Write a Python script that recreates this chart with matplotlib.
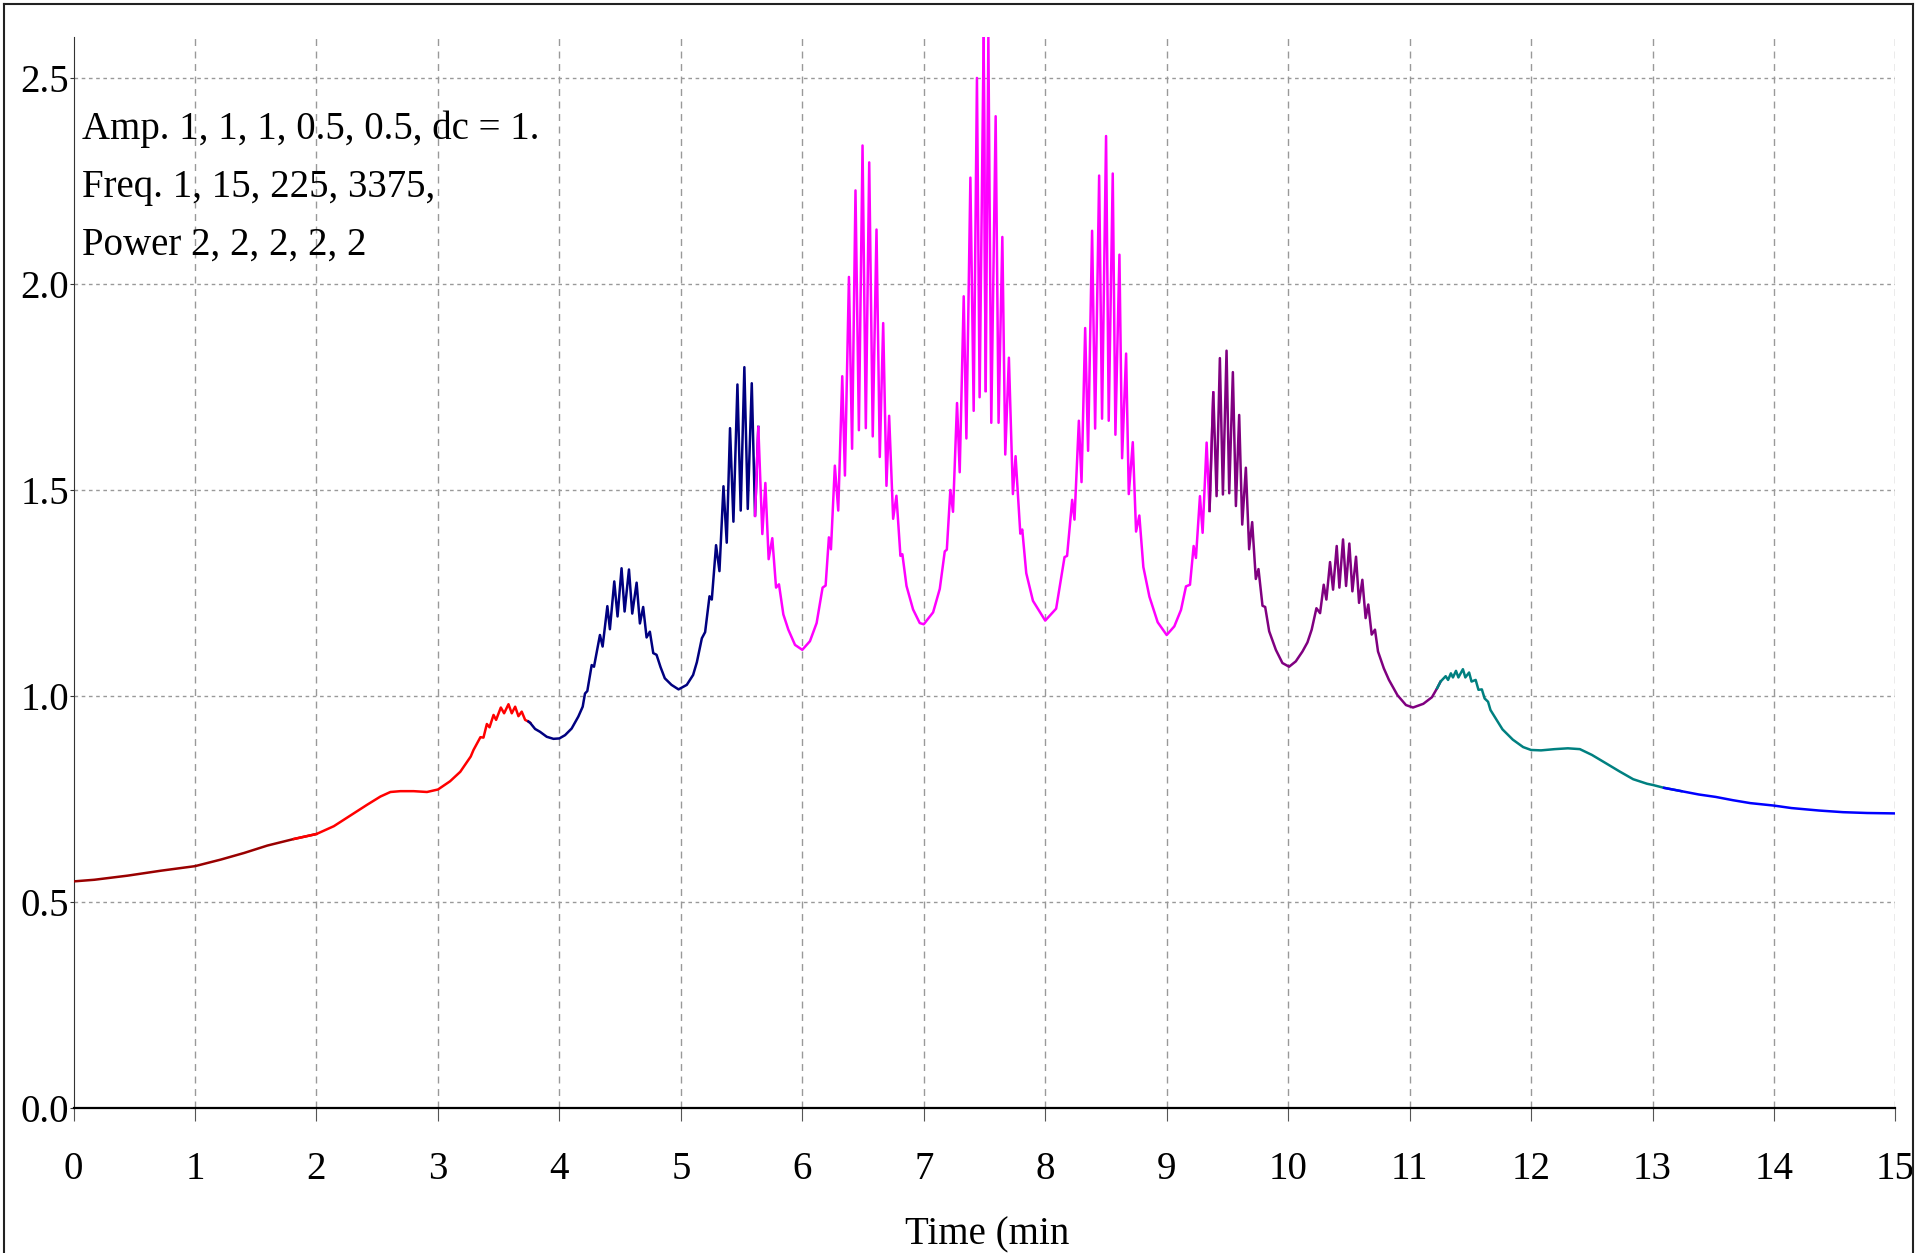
"""
Multi-frequency test signal, coloured by time segment
"""

import matplotlib
matplotlib.use('Agg')
import matplotlib.pyplot as plt
from matplotlib.lines import Line2D
import numpy as np

# ---- data -------------------------------------------------------------------
time_min = [
    0.0, 0.172, 0.446, 0.72, 1.0, 1.213, 1.404, 1.596, 1.815, 2.0,
    2.143, 2.28, 2.417, 2.527, 2.609, 2.691, 2.8, 2.91, 3.0, 3.1,
    3.184, 3.27, 3.293, 3.35, 3.375, 3.403, 3.425, 3.458, 3.479, 3.518,
    3.545, 3.581, 3.608, 3.636, 3.663, 3.69, 3.718, 3.745, 3.759, 3.8,
    3.841, 3.896, 3.951, 4.0, 4.047, 4.101, 4.156, 4.192, 4.211, 4.23,
    4.266, 4.285, 4.334, 4.356, 4.395, 4.416, 4.452, 4.479, 4.512, 4.537,
    4.573, 4.6, 4.636, 4.663, 4.69, 4.718, 4.745, 4.773, 4.8, 4.833,
    4.868, 4.923, 4.981, 5.049, 5.101, 5.132, 5.173, 5.2, 5.236, 5.255,
    5.29, 5.318, 5.351, 5.378, 5.405, 5.433, 5.466, 5.493, 5.523, 5.551,
    5.584, 5.611, 5.638, 5.671, 5.696, 5.723, 5.753, 5.784, 5.808, 5.844,
    5.885, 5.94, 6.0, 6.063, 6.118, 6.167, 6.192, 6.219, 6.236, 6.268,
    6.296, 6.329, 6.351, 6.384, 6.41, 6.438, 6.466, 6.496, 6.523, 6.551,
    6.58, 6.611, 6.638, 6.666, 6.693, 6.715, 6.748, 6.775, 6.808, 6.824,
    6.858, 6.912, 6.967, 7.0, 7.077, 7.132, 7.173, 7.19, 7.219, 7.241,
    7.274, 7.296, 7.329, 7.351, 7.384, 7.411, 7.438, 7.46, 7.493, 7.51,
    7.532, 7.556, 7.592, 7.616, 7.647, 7.671, 7.701, 7.734, 7.756, 7.795,
    7.811, 7.844, 7.899, 8.0, 8.09, 8.159, 8.18, 8.222, 8.241, 8.277,
    8.299, 8.329, 8.353, 8.386, 8.411, 8.444, 8.468, 8.501, 8.523, 8.556,
    8.578, 8.611, 8.633, 8.666, 8.688, 8.721, 8.748, 8.775, 8.808, 8.858,
    8.926, 9.0, 9.063, 9.118, 9.159, 9.192, 9.222, 9.241, 9.274, 9.296,
    9.329, 9.353, 9.384, 9.411, 9.438, 9.463, 9.493, 9.515, 9.545, 9.57,
    9.597, 9.622, 9.652, 9.679, 9.704, 9.734, 9.756, 9.789, 9.811, 9.844,
    9.899, 9.953, 10.008, 10.063, 10.118, 10.159, 10.194, 10.233, 10.263, 10.293,
    10.315, 10.345, 10.37, 10.4, 10.422, 10.452, 10.477, 10.504, 10.529, 10.559,
    10.584, 10.611, 10.638, 10.66, 10.688, 10.715, 10.74, 10.788, 10.83, 10.9,
    10.97, 11.028, 11.113, 11.184, 11.227, 11.255, 11.297, 11.317, 11.34, 11.357,
    11.382, 11.402, 11.439, 11.459, 11.49, 11.51, 11.544, 11.567, 11.595, 11.618,
    11.646, 11.666, 11.708, 11.765, 11.85, 11.935, 12.0, 12.082, 12.195, 12.303,
    12.402, 12.501, 12.615, 12.728, 12.841, 12.955, 13.003, 13.096, 13.238, 13.38,
    13.521, 13.663, 13.805, 14.0, 14.144, 14.371, 14.569, 14.768, 15.0,
]

signal = [
    0.550, 0.554, 0.564, 0.576, 0.587, 0.603, 0.619, 0.637, 0.653, 0.665,
    0.684, 0.710, 0.736, 0.756, 0.767, 0.769, 0.769, 0.767, 0.773, 0.793,
    0.816, 0.853, 0.869, 0.900, 0.899, 0.932, 0.924, 0.954, 0.942, 0.972,
    0.958, 0.980, 0.958, 0.974, 0.951, 0.962, 0.942, 0.938, 0.935, 0.920,
    0.913, 0.901, 0.896, 0.897, 0.905, 0.921, 0.950, 0.974, 1.006, 1.012,
    1.075, 1.071, 1.148, 1.120, 1.218, 1.162, 1.278, 1.193, 1.310, 1.205,
    1.307, 1.200, 1.275, 1.176, 1.216, 1.142, 1.156, 1.104, 1.100, 1.070,
    1.043, 1.027, 1.016, 1.027, 1.051, 1.082, 1.140, 1.155, 1.242, 1.234,
    1.366, 1.303, 1.509, 1.372, 1.650, 1.423, 1.756, 1.450, 1.798, 1.454,
    1.759, 1.437, 1.653, 1.393, 1.517, 1.332, 1.383, 1.263, 1.271, 1.198,
    1.161, 1.124, 1.112, 1.133, 1.177, 1.263, 1.268, 1.385, 1.356, 1.559,
    1.450, 1.776, 1.535, 2.017, 1.600, 2.227, 1.645, 2.336, 1.650, 2.295,
    1.630, 2.132, 1.580, 1.905, 1.510, 1.680, 1.430, 1.486, 1.340, 1.344,
    1.267, 1.210, 1.177, 1.174, 1.203, 1.260, 1.351, 1.355, 1.500, 1.447,
    1.711, 1.543, 1.970, 1.625, 2.258, 1.692, 2.500, 1.725, 2.600, 1.740,
    2.600, 1.663, 2.407, 1.663, 2.114, 1.586, 1.821, 1.490, 1.582, 1.394,
    1.404, 1.298, 1.231, 1.183, 1.212, 1.337, 1.340, 1.476, 1.428, 1.668,
    1.519, 1.893, 1.595, 2.129, 1.649, 2.263, 1.673, 2.359, 1.668, 2.268,
    1.634, 2.071, 1.577, 1.831, 1.490, 1.616, 1.399, 1.438, 1.313, 1.241,
    1.179, 1.148, 1.169, 1.209, 1.266, 1.270, 1.364, 1.335, 1.485, 1.396,
    1.615, 1.449, 1.737, 1.485, 1.820, 1.489, 1.838, 1.492, 1.786, 1.461,
    1.682, 1.416, 1.554, 1.356, 1.422, 1.284, 1.308, 1.219, 1.216, 1.157,
    1.112, 1.080, 1.071, 1.084, 1.108, 1.130, 1.161, 1.213, 1.201, 1.270,
    1.234, 1.325, 1.258, 1.364, 1.263, 1.380, 1.267, 1.370, 1.254, 1.338,
    1.226, 1.282, 1.189, 1.222, 1.149, 1.161, 1.108, 1.067, 1.039, 1.002,
    0.978, 0.972, 0.981, 0.997, 1.019, 1.035, 1.048, 1.039, 1.055, 1.045,
    1.061, 1.045, 1.065, 1.045, 1.057, 1.035, 1.039, 1.015, 1.016, 0.994,
    0.986, 0.966, 0.946, 0.919, 0.894, 0.876, 0.869, 0.868, 0.871, 0.873,
    0.871, 0.857, 0.837, 0.817, 0.798, 0.787, 0.784, 0.777, 0.769, 0.761,
    0.755, 0.747, 0.740, 0.734, 0.728, 0.722, 0.718, 0.716, 0.715,
]

segment_edges = [0.0, 1.875, 3.75, 5.625, 7.5, 9.375, 11.25, 13.125, 15.0]
segment_colors = ['#990000', '#ff0000', '#000080', '#ff00ff',
                  '#ff00ff', '#800080', '#008080', '#0000ff']

x_ticks = list(range(0, 16))
y_ticks = [0.0, 0.5, 1.0, 1.5, 2.0, 2.5]
notes = ['Amp. 1, 1, 1, 0.5, 0.5, dc = 1.',
         'Freq. 1, 15, 225, 3375,',
         'Power 2, 2, 2, 2, 2']

plt.rcParams['font.family'] = ['Liberation Serif', 'DejaVu Serif']

fig = plt.figure(figsize=(19.2, 12.53), dpi=100)
ax = fig.add_axes([0.0383, 0.1157, 0.9489, 0.855])

t = np.array(time_min)
v = np.array(signal)

# one line per colour segment, overlapping by one point so there is no gap
for (lo, hi), color in zip(zip(segment_edges[:-1], segment_edges[1:]), segment_colors):
    idx = np.where((t >= lo) & (t <= hi))[0]
    i0 = max(idx[0] - 1, 0)
    i1 = min(idx[-1] + 2, len(t))
    ax.plot(t[i0:i1], v[i0:i1], color=color, linewidth=1.8, zorder=3)

ax.set_xlim(0, 15)
ax.set_ylim(0, 2.6)
ax.set_xticks(x_ticks)
ax.set_xticklabels([str(x) for x in x_ticks])
ax.set_yticks(y_ticks)
ax.set_yticklabels([f'{y:.1f}' for y in y_ticks])

# grid: long dashes vertical, short dots horizontal
for x in x_ticks[1:]:
    ax.axvline(x, color='#999999', linewidth=1.0, linestyle=(0, (5, 4)), zorder=1)
for y in y_ticks[1:]:
    ax.axhline(y, color='#999999', linewidth=1.0, linestyle=(0, (2.6, 2.6)), zorder=1)

for side in ['top', 'right']:
    ax.spines[side].set_visible(False)
ax.spines['bottom'].set_linewidth(1.6)
ax.spines['bottom'].set_color('black')
ax.spines['left'].set_linewidth(0.8)
ax.spines['left'].set_color('#333333')

ax.tick_params(axis='x', direction='out', length=9, width=0.8, pad=22,
               labelsize=28, colors='#555555', labelcolor='black')
ax.tick_params(axis='y', direction='out', length=3, width=0.8, pad=0,
               labelsize=28, colors='#333333', labelcolor='black')

# parameter notes in the upper left
for i, line in enumerate(notes):
    fig.text(82 / 1920, 1 - (129 + 58 * i) / 1253, line, fontsize=28,
             ha='left', va='center')

fig.text(987 / 1920, 1 - 1235 / 1253, 'Time (min', fontsize=28,
         ha='center', va='center')

# outer frame of the figure
frame_kw = dict(color='#222222', linewidth=1.5, transform=fig.transFigure)
fig.add_artist(Line2D([4 / 1920, 4 / 1920], [0, 1 - 4 / 1253], **frame_kw))
fig.add_artist(Line2D([4 / 1920, 1913 / 1920], [1 - 4 / 1253, 1 - 4 / 1253], **frame_kw))
fig.add_artist(Line2D([1913 / 1920, 1913 / 1920], [0, 1 - 4 / 1253], **frame_kw))

fig.savefig('out.png', dpi=100)
plt.close(fig)
